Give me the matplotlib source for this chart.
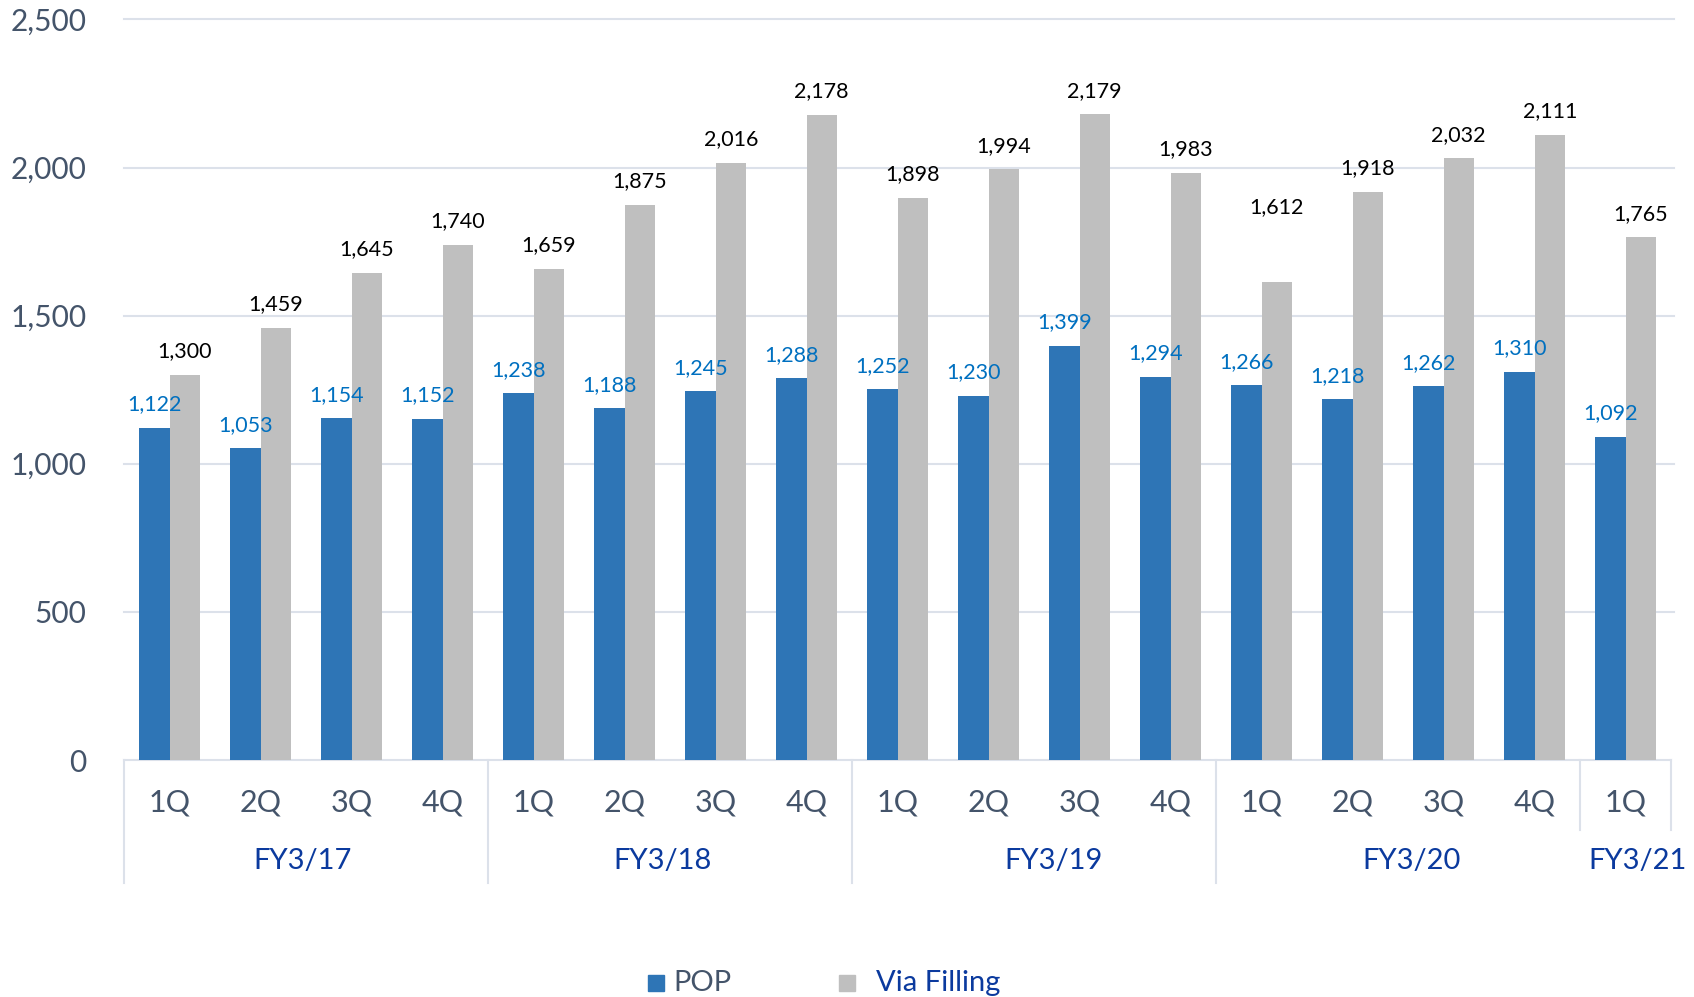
import matplotlib
matplotlib.use("Agg")
import matplotlib.pyplot as plt
from matplotlib.patches import Rectangle
import numpy as np

plt.rcParams["font.family"] = ["Lato", "DejaVu Sans"]

# Quarterly figures
quarters = ["1Q", "2Q", "3Q", "4Q"] * 4 + ["1Q"]
fiscal_years = ["FY3/17", "FY3/18", "FY3/19", "FY3/20", "FY3/21"]
quarters_per_year = [4, 4, 4, 4, 1]
pop = [1122, 1053, 1154, 1152, 1238, 1188, 1245, 1288, 1252, 1230,
       1399, 1294, 1266, 1218, 1262, 1310, 1092]
via_filling = [1300, 1459, 1645, 1740, 1659, 1875, 2016, 2178, 1898, 1994,
               2179, 1983, 1612, 1918, 2032, 2111, 1765]
series_names = ["POP", "Via Filling"]
y_ticks = [0, 500, 1000, 1500, 2000, 2500]

BLUE = "#2E75B6"
GREY = "#BFBFBF"
SLATE = "#44546A"
NAVY = "#0B3A9E"
LABEL_BLUE = "#0070C0"
GRID = "#DCE1EA"

W, H = 1694, 997
fig = plt.figure(figsize=(W / 100, H / 100), dpi=100)
ax_left, ax_right, ax_top, ax_bottom = 124, 1671, 19.4, 760
ax = fig.add_axes([ax_left / W, 1 - ax_bottom / H,
                   (ax_right - ax_left) / W, (ax_bottom - ax_top) / H])

n = len(pop)
x = np.arange(n)
bw = 0.335
ax.bar(x - bw / 2, pop, width=bw, color=BLUE, zorder=3)
ax.bar(x + bw / 2, via_filling, width=bw, color=GREY, zorder=3)

ax.set_xlim(-0.5, n - 0.5)
ax.set_ylim(0, 2500)
ax.set_yticks(y_ticks)
ax.set_yticklabels([f"{v:,}" for v in y_ticks], fontsize=21.5, color=SLATE)
ax.tick_params(axis="y", length=0, pad=27)
ax.set_xticks([])
for s in ["top", "right", "left"]:
    ax.spines[s].set_visible(False)
ax.spines["bottom"].set_color(GRID)
ax.spines["bottom"].set_linewidth(1.5)
for t in y_ticks[1:]:
    ax.axhline(t, color=GRID, lw=1.5, zorder=1, xmax=1.002, clip_on=False)

# Value labels above the bars
extra_lift = {12: 52}  # px lift for the crowded 1,612 label
for i in range(n):
    ax.annotate(f"{pop[i]:,}", (x[i] - bw / 2, pop[i]), xytext=(0, 12.5),
                textcoords="offset points", ha="center", va="baseline",
                fontsize=15.5, color=LABEL_BLUE, zorder=4)
    lift = 12.5 + extra_lift.get(i, 0) * 0.72
    ax.annotate(f"{via_filling[i]:,}", (x[i] + bw / 2, via_filling[i]),
                xytext=(0, lift), textcoords="offset points", ha="center",
                va="baseline", fontsize=15.5, color="black", zorder=4)

# Two-level category axis
ah = ax_bottom - ax_top
xt = ax.get_xaxis_transform()
q_y = -(803 - ax_bottom) / ah
fy_y = -(861 - ax_bottom) / ah
long_end = -(883 - ax_bottom) / ah
short_end = -(830 - ax_bottom) / ah
for i, q in enumerate(quarters):
    ax.text(i, q_y, q, transform=xt, ha="center", va="center",
            fontsize=22, color=SLATE)

fy_shift = [-0.04, -0.08, 0.22, 0.15, 0.13]
start = 0
bounds = [-0.5]
for k, (fy, cnt) in enumerate(zip(fiscal_years, quarters_per_year)):
    centre = start + (cnt - 1) / 2 + fy_shift[k]
    ax.text(centre, fy_y, fy, transform=xt, ha="center", va="center",
            fontsize=21, color=NAVY)
    start += cnt
    bounds.append(start - 0.5)
for j, b in enumerate(bounds):
    end = short_end if j >= len(bounds) - 2 else long_end
    ax.plot([b, b], [0, end], transform=xt, color=GRID, lw=1.5,
            clip_on=False, zorder=2)

# Legend along the bottom edge
leg_y = 1 - 983 / H
sq = 16
for (sx, tx, name, tc, fc) in [(648, 673, series_names[0], SLATE, BLUE),
                               (839, 876, series_names[1], NAVY, GREY)]:
    fig.patches.append(Rectangle((sx / W, leg_y - sq / 2 / H), sq / W, sq / H,
                                 transform=fig.transFigure, color=fc))
    fig.text(tx / W, leg_y, name, ha="left", va="center", fontsize=21,
             color=tc)

fig.savefig("out.png", dpi=100)
